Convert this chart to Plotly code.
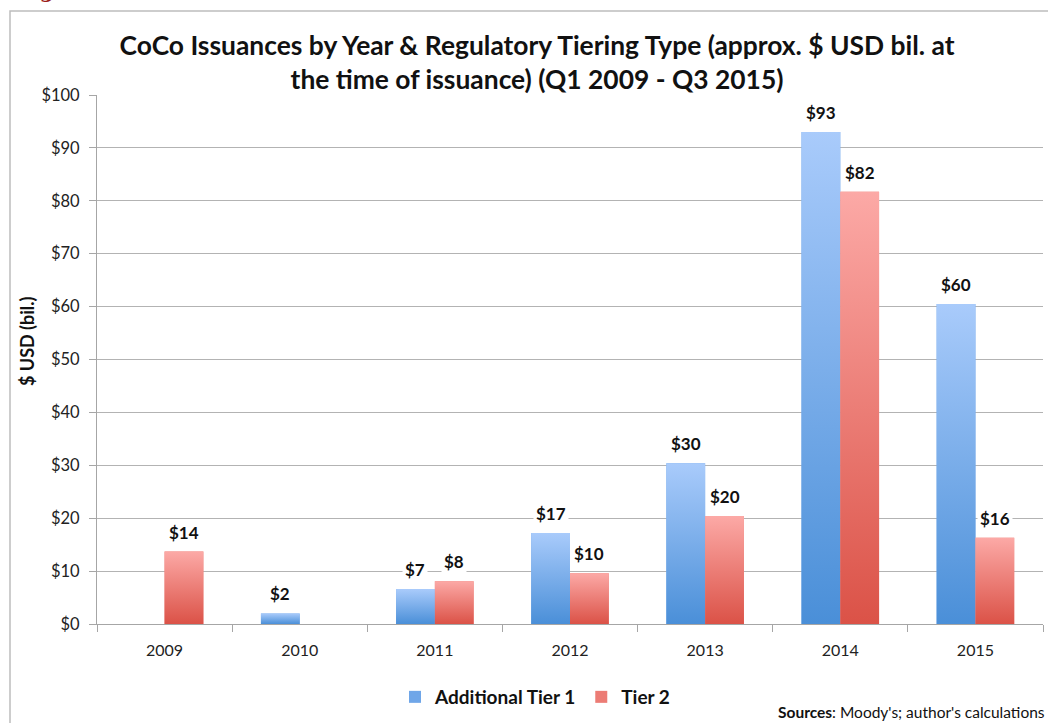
import plotly.graph_objects as go

# Annual CoCo issuance, approx. $ USD billions
years = ["2009", "2010", "2011", "2012", "2013", "2014", "2015"]
additional_tier1 = [None, 2.0, 6.6, 17.2, 30.4, 93.0, 60.5]
tier2 = [13.7, None, 8.1, 9.6, 20.4, 81.7, 16.3]
y_ticks = [0, 10, 20, 30, 40, 50, 60, 70, 80, 90, 100]
y_tick_labels = ["$" + str(v) for v in y_ticks]

FONT = "Lato"
BAR_W = 0.287
PLOT_TOP, PLOT_BOTTOM, PLOT_LEFT = 95, 624, 97
PLOT_H = PLOT_BOTTOM - PLOT_TOP
PLOT_W = 1043 - PLOT_LEFT


def px_to_paper_y(py):
    return (PLOT_BOTTOM - py) / PLOT_H


def px_to_paper_x(px):
    return (px - PLOT_LEFT) / PLOT_W


series = [
    # name, values, bar offset, solid colour, gradient bottom, gradient top
    ("Additional Tier 1", additional_tier1, -BAR_W, "#6fa6e8", "#4a8fd8", "#a9cbfb"),
    ("Tier 2", tier2, 0.0, "#ec7c75", "#db5247", "#fca9a6"),
]

fig = go.Figure()
xs = list(range(len(years)))

for name, vals, off, solid, bot, top in series:
    fig.add_trace(go.Bar(
        x=xs, y=vals, name=name, width=BAR_W, offset=off,
        marker=dict(color=solid, line=dict(width=0)),
        hovertemplate="%{y:$.1f}<extra>" + name + "</extra>",
    ))

# vertical gradient fill drawn over each bar
for name, vals, off, solid, bot, top in series:
    for i, v in enumerate(vals):
        if v is None:
            continue
        x0, x1 = i + off, i + off + BAR_W
        fig.add_trace(go.Scatter(
            x=[x0, x1, x1, x0, x0], y=[0, 0, v, v, 0],
            mode="lines", fill="toself", line=dict(width=0),
            fillgradient=dict(type="vertical", start=0, stop=v,
                              colorscale=[[0, bot], [1, top]]),
            showlegend=False, hoverinfo="skip",
        ))

# value labels on white boxes
annotations = []
for name, vals, off, solid, bot, top in series:
    for i, v in enumerate(vals):
        if v is None:
            continue
        annotations.append(dict(
            x=i + off + BAR_W / 2, y=v, xref="x", yref="y",
            text="$" + format(v, ".0f"), showarrow=False,
            yanchor="bottom", yshift=6, bgcolor="white", borderpad=2,
            font=dict(family=FONT, size=17, color="#111111", weight="bold"),
        ))

# y-axis title
annotations.append(dict(
    x=px_to_paper_x(27), y=px_to_paper_y(341), xref="paper", yref="paper",
    xanchor="center", yanchor="middle", textangle=-90, showarrow=False,
    text="$ USD (bil.)",
    font=dict(family=FONT, size=18, color="#111111", weight="bold"),
))

# source note
annotations.append(dict(
    x=px_to_paper_x(776), y=px_to_paper_y(712), xref="paper", yref="paper",
    xanchor="left", yanchor="middle", showarrow=False, align="left",
    text="<b>Sources</b>: Moody's; author's calculations",
    font=dict(family=FONT, size=15.5, color="#111111"),
))

# figure caption running off the top edge
annotations.append(dict(
    x=px_to_paper_x(16), y=px_to_paper_y(-9), xref="paper", yref="paper",
    xanchor="left", yanchor="middle", showarrow=False,
    text="Figure",
    font=dict(family="DejaVu Serif", size=20, color="#9b1c1c", weight="bold"),
))

fig.update_layout(
    width=1048, height=723,
    margin=dict(l=PLOT_LEFT, r=1048 - 1043, t=PLOT_TOP, b=723 - PLOT_BOTTOM),
    paper_bgcolor="white", plot_bgcolor="white",
    barmode="overlay",
    title=dict(
        text="CoCo Issuances by Year & Regulatory Tiering Type (approx. $ USD bil. at<br>"
             "the time of issuance) (Q1 2009 - Q3 2015)",
        x=537 / 1048, xanchor="center", xref="container",
        y=1 - 55 / 723, yanchor="middle",
        font=dict(family=FONT, size=26.4, color="#111111", weight="bold"),
    ),
    xaxis=dict(
        range=[-0.5, 6.5], tickvals=xs, ticktext=years, ticks="",
        showgrid=False, zeroline=False, showline=True, linecolor="#a6a6a6",
        linewidth=1, ticklabelstandoff=12,
        tickfont=dict(family=FONT, size=16, color="#222222"),
        minor=dict(tickvals=[i - 0.5 for i in range(len(years) + 1)], ticks="outside",
                   ticklen=7, tickcolor="#a6a6a6", tickwidth=1, showgrid=False),
    ),
    yaxis=dict(
        range=[0, 100], tickvals=y_ticks, ticktext=y_tick_labels,
        ticks="outside", ticklen=7, tickcolor="#a6a6a6",
        showgrid=True, gridcolor="#b3b3b3", gridwidth=1, zeroline=False,
        showline=True, linecolor="#a6a6a6", linewidth=1, ticklabelstandoff=6,
        tickfont=dict(family=FONT, size=16.5, color="#222222"),
    ),
    legend=dict(
        orientation="h", x=px_to_paper_x(535), xanchor="center",
        y=px_to_paper_y(697), yanchor="middle",
        font=dict(family=FONT, size=19, color="#111111", weight="bold"),
        itemwidth=30, traceorder="normal",
    ),
    annotations=annotations,
    shapes=[
        # chart frame
        dict(type="rect", xref="paper", yref="paper",
             x0=px_to_paper_x(10), x1=px_to_paper_x(1100),
             y0=px_to_paper_y(800), y1=px_to_paper_y(11),
             line=dict(color="#bdbdbd", width=1.5), fillcolor="rgba(0,0,0,0)", layer="below"),
    ],
    hovermode="closest",
)

fig.write_html("out.html")
